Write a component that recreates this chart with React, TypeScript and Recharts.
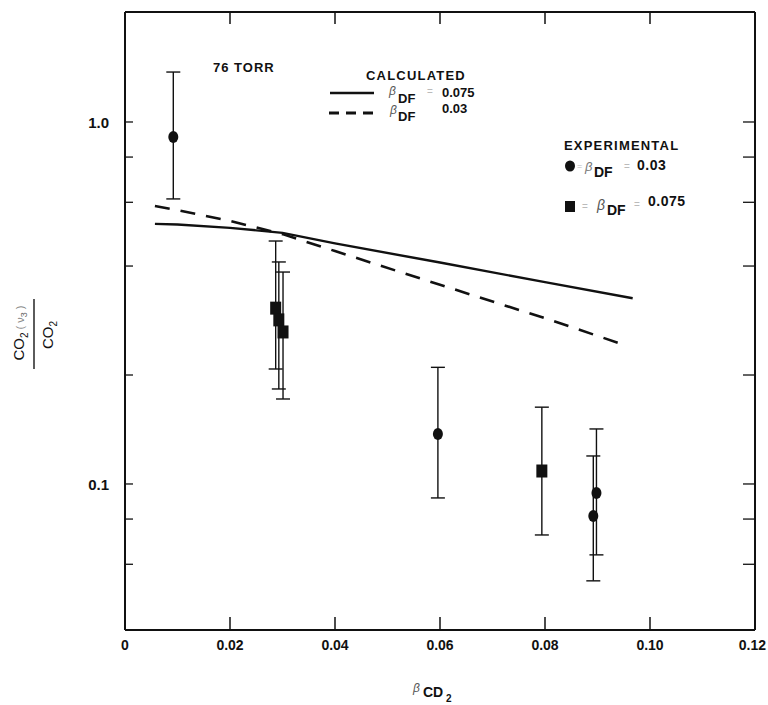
import React from 'react';
import { ComposedChart, Scatter, XAxis, YAxis, ErrorBar } from 'recharts';

const W = 768;
const H = 705;
const INK = '#111';
const FONT = "'Liberation Sans', Arial, Helvetica, sans-serif";

// axes
const xTicks = [0, 0.02, 0.04, 0.06, 0.08, 0.1, 0.12];
const xTickLabels = ['0', '0.02', '0.04', '0.06', '0.08', '0.10', '0.12'];
const xTopTicks = [0.02, 0.04, 0.06, 0.08, 0.1];
const yTicksLeft = [0.06, 0.08, 0.1, 0.2, 0.4, 0.6, 0.8, 1];
const yTicksRight = [0.06, 0.08, 0.1, 0.2, 0.4, 0.6, 0.8, 1];
const yLabelValues = [1, 0.1];
const yLabelTexts = ['1.0', '0.1'];
const yDomain = [0.0395, 2.013];

// calculated, beta_DF = 0.075 (solid)
const calc075X = [0.0057, 0.01, 0.02, 0.03, 0.04, 0.06, 0.08, 0.0967];
const calc075Y = [0.523, 0.521, 0.51, 0.494, 0.462, 0.409, 0.361, 0.326];

// calculated, beta_DF = 0.03 (dashed)
const calc03X = [0.0057, 0.01, 0.02, 0.03, 0.04, 0.06, 0.08, 0.0952];
const calc03Y = [0.586, 0.571, 0.533, 0.49, 0.44, 0.355, 0.287, 0.242];

// experimental, beta_DF = 0.03 (circles)
const circX = [0.0092, 0.0596, 0.0892, 0.0898];
const circY = [0.909, 0.1375, 0.0816, 0.0944];
const circLo = [0.613, 0.0915, 0.054, 0.0637];
const circHi = [1.374, 0.21, 0.1195, 0.1419];

// experimental, beta_DF = 0.075 (squares)
const sqX = [0.0287, 0.0293, 0.0301, 0.0794];
const sqY = [0.306, 0.284, 0.263, 0.1086];
const sqLo = [0.2078, 0.183, 0.1717, 0.0723];
const sqHi = [0.469, 0.4105, 0.385, 0.163];

const solidData = calc075X.map((x, i) => ({ x, y: calc075Y[i] }));
const dashData = calc03X.map((x, i) => ({ x, y: calc03Y[i] }));
const circleData = circX.map((x, i) => ({ x, y: circY[i], err: [circY[i] - circLo[i], circHi[i] - circY[i]] }));
const squareData = sqX.map((x, i) => ({ x, y: sqY[i], err: [sqY[i] - sqLo[i], sqHi[i] - sqY[i]] }));

const NoDot = () => <g />;
const Dot = (p: any) => <ellipse cx={p.cx} cy={p.cy} rx={5} ry={6} fill={INK} />;
const Square = (p: any) => <rect x={p.cx - 5.5} y={p.cy - 6.5} width={11} height={13} fill={INK} />;

const BottomTick = (p: any) => {
  const i = xTicks.indexOf(p.payload.value);
  const inner = p.payload.value !== 0 && p.payload.value !== 0.12;
  const last = i === xTicks.length - 1;
  return (
    <g>
      {inner && <line x1={p.x} x2={p.x} y1={p.y} y2={p.y - 13} stroke={INK} strokeWidth={1.5} />}
      <text
        x={last ? p.x + 11 : p.x}
        y={p.y + 20}
        textAnchor={last ? 'end' : 'middle'}
        fontSize={14}
        fontWeight="bold"
        fontFamily={FONT}
        fill={INK}
      >
        {xTickLabels[i]}
      </text>
    </g>
  );
};

const TopTick = (p: any) => (
  <line x1={p.x} x2={p.x} y1={p.y} y2={p.y + 12} stroke={INK} strokeWidth={1.5} />
);

const LeftTick = (p: any) => {
  const i = yLabelValues.indexOf(p.payload.value);
  return (
    <g>
      <line x1={p.x} x2={p.x + 8} y1={p.y} y2={p.y} stroke={INK} strokeWidth={1.3} />
      {i >= 0 && (
        <text x={p.x - 16} y={p.y + 6} textAnchor="end" fontSize={15} fontWeight="bold" fontFamily={FONT} fill={INK}>
          {yLabelTexts[i]}
        </text>
      )}
    </g>
  );
};

const RightTick = (p: any) => (
  <line x1={p.x} x2={p.x - 12} y1={p.y} y2={p.y} stroke={INK} strokeWidth={1.3} />
);

const Overlay = () => (
  <svg width={W} height={H} style={{ position: 'absolute', left: 0, top: 0, pointerEvents: 'none' }} fontFamily={FONT}>
    <text x={213} y={72} fontSize={13} fontWeight="bold" letterSpacing={1} fill={INK}>76 TORR</text>

    <text x={366} y={80} fontSize={13} fontWeight="bold" letterSpacing={1.2} fill={INK}>CALCULATED</text>
    <line x1={330} x2={374} y1={93} y2={93} stroke={INK} strokeWidth={2.5} />
    <text x={389} y={95} fontSize={12} fontStyle="italic" fill="#555">β</text>
    <text x={398} y={103} fontSize={13} fontWeight="bold" fill={INK}>DF</text>
    <text x={427} y={95} fontSize={10} fill="#bbb">=</text>
    <text x={442} y={97} fontSize={13} fontWeight="bold" fill={INK}>0.075</text>
    <line x1={329} x2={375} y1={113} y2={113} stroke={INK} strokeWidth={3} strokeDasharray="10 7" />
    <text x={390} y={114} fontSize={12} fontStyle="italic" fill="#555">β</text>
    <text x={398} y={121} fontSize={13} fontWeight="bold" fill={INK}>DF</text>
    <text x={442} y={113} fontSize={13} fontWeight="bold" fill={INK}>0.03</text>

    <text x={564} y={150} fontSize={13} fontWeight="bold" letterSpacing={1.2} fill={INK}>EXPERIMENTAL</text>
    <ellipse cx={570} cy={166} rx={5} ry={5.5} fill={INK} />
    <text x={577} y={169} fontSize={9} fill="#bbb">=</text>
    <text x={585} y={171} fontSize={13} fontStyle="italic" fill="#777">β</text>
    <text x={594} y={177} fontSize={14} fontWeight="bold" fill={INK}>DF</text>
    <text x={624} y={170} fontSize={10} fill="#bbb">=</text>
    <text x={637} y={170} fontSize={14} fontWeight="bold" letterSpacing={0.5} fill={INK}>0.03</text>
    <rect x={565} y={201} width={10} height={11} fill={INK} />
    <text x={582} y={210} fontSize={10} fill="#bbb">=</text>
    <text x={597} y={210} fontSize={14} fontStyle="italic" fill="#555">β</text>
    <text x={607} y={215} fontSize={14} fontWeight="bold" fill={INK}>DF</text>
    <text x={634} y={208} fontSize={10} fill="#bbb">=</text>
    <text x={648} y={206} fontSize={14} fontWeight="bold" letterSpacing={0.5} fill={INK}>0.075</text>

    <g transform="translate(35,334) rotate(-90)">
      <text x={1} y={-11} textAnchor="middle" fontSize={15} fill={INK}>
        CO<tspan fontSize={10} dy={4}>2</tspan>
        <tspan dy={-4} fill="#888" fontSize={11}> ( ν</tspan>
        <tspan fontSize={9} dy={3} fill="#666">3</tspan>
        <tspan dy={-3} fill="#888" fontSize={11}> )</tspan>
      </text>
      <line x1={-35} x2={35} y1={-1} y2={-1} stroke="#333" strokeWidth={1.6} />
      <text x={-1} y={18} textAnchor="middle" fontSize={15} fill={INK}>
        CO<tspan fontSize={10} dy={4}>2</tspan>
      </text>
    </g>

    <text x={413} y={692} fontSize={12} fontStyle="italic" fill="#555">β</text>
    <text x={423} y={697} fontSize={14} fontWeight="bold" fill={INK}>CD</text>
    <text x={446} y={702} fontSize={10} fontWeight="bold" fill={INK}>2</text>
  </svg>
);

export default function App() {
  return (
    <div style={{ position: 'absolute', left: 0, top: 0, width: W, height: H, background: '#fff' }}>
      <ComposedChart width={W} height={H} margin={{ top: 0, right: 0, bottom: 0, left: 0 }}>
        <XAxis
          xAxisId={0}
          type="number"
          dataKey="x"
          domain={[0, 0.12]}
          ticks={xTicks}
          interval={0}
          allowDataOverflow
          height={75}
          tickSize={0}
          tickMargin={0}
          tickLine={false}
          tick={BottomTick}
          axisLine={{ stroke: INK, strokeWidth: 2 }}
        />
        <XAxis
          xAxisId="top"
          orientation="top"
          type="number"
          dataKey="x"
          domain={[0, 0.12]}
          ticks={xTopTicks}
          interval={0}
          allowDataOverflow
          height={12}
          tickSize={0}
          tickMargin={0}
          tickLine={false}
          tick={TopTick}
          axisLine={{ stroke: INK, strokeWidth: 2 }}
        />
        <YAxis
          yAxisId={0}
          type="number"
          dataKey="y"
          scale="log"
          domain={yDomain}
          ticks={yTicksLeft}
          interval={0}
          allowDataOverflow
          width={125}
          tickSize={0}
          tickMargin={0}
          tickLine={false}
          tick={LeftTick}
          axisLine={{ stroke: INK, strokeWidth: 2 }}
        />
        <YAxis
          yAxisId="right"
          orientation="right"
          type="number"
          dataKey="y"
          scale="log"
          domain={yDomain}
          ticks={yTicksRight}
          interval={0}
          allowDataOverflow
          width={13}
          tickSize={0}
          tickMargin={0}
          tickLine={false}
          tick={RightTick}
          axisLine={{ stroke: INK, strokeWidth: 2 }}
        />
        <Scatter
          data={solidData}
          dataKey="y"
          line={{ stroke: INK, strokeWidth: 2.4 }}
          lineType="joint"
          shape={NoDot}
          isAnimationActive={false}
        />
        <Scatter
          data={dashData}
          dataKey="y"
          line={{ stroke: INK, strokeWidth: 2.6, strokeDasharray: '15 11' }}
          lineType="joint"
          shape={NoDot}
          isAnimationActive={false}
        />
        <Scatter data={circleData} dataKey="y" shape={Dot} isAnimationActive={false}>
          <ErrorBar dataKey="err" direction="y" width={7} stroke={INK} strokeWidth={1.4} />
        </Scatter>
        <Scatter data={squareData} dataKey="y" shape={Square} isAnimationActive={false}>
          <ErrorBar dataKey="err" direction="y" width={7} stroke={INK} strokeWidth={1.4} />
        </Scatter>
      </ComposedChart>
      <Overlay />
    </div>
  );
}
